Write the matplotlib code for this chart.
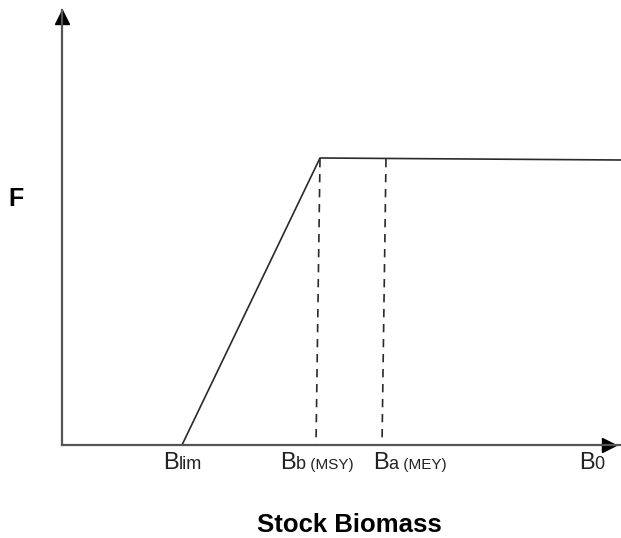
import matplotlib.pyplot as plt

plt.rcParams['font.family'] = ['Liberation Sans', 'DejaVu Sans']

# harvest control rule, in chart units (x: biomass, y: fishing mortality)
rule_b = [120, 258, 559]
rule_f = [0, 287, 285]

# reference points on the biomass axis
ref_main = ['B', 'B', 'B', 'B']
ref_sub = ['lim', 'b', 'a', '0']
ref_extra = ['', ' (MSY)', ' (MEY)', '']
label_left = [101, 218, 311, 517]
dash_top_x = [258, 324]
dash_bot_x = [254, 320]
dash_top_f = 286

fig = plt.figure(figsize=(6.21, 5.38), dpi=100)
ax = fig.add_axes([62 / 621, (538 - 445) / 538, (621 - 62) / 621, (445 - 10) / 538])
ax.set_xlim(0, 559)
ax.set_ylim(0, 435)
for s in ['top', 'right']:
    ax.spines[s].set_visible(False)
for s in ['left', 'bottom']:
    ax.spines[s].set_color('#555555')
    ax.spines[s].set_linewidth(1.6)
ax.set_xticks([])
ax.set_yticks([])
ax.patch.set_visible(False)

# arrow heads
ax.plot([0], [428], marker='^', color='black', markersize=10, clip_on=False)
ax.plot([547], [0], marker='>', color='black', markersize=10, clip_on=False)

ax.plot(rule_b, rule_f, color='#2a2a2a', lw=1.2, clip_on=False)
for xt, xb in zip(dash_top_x, dash_bot_x):
    ax.plot([xt, xb], [dash_top_f, 0], color='#2a2a2a', lw=1.2,
            dashes=(5, 4), clip_on=False)

# labels under the x axis, built piece by piece
r = fig.canvas.get_renderer()
base_y = 538 - 469
for main, sub, extra, x in zip(ref_main, ref_sub, ref_extra, label_left):
    x_px = ax.transData.transform((x, 0))[0]
    parts = [(main, 17), (sub, 13), (extra, 11)]
    for txt, size in parts:
        if not txt:
            continue
        t = fig.text(x_px / 621, base_y / 538, txt, fontsize=size,
                     color='#222222', ha='left', va='baseline')
        x_px = t.get_window_extent(r).x1

fig.text(16 / 621, 1 - 199 / 538, 'F', fontsize=18, fontweight='bold',
         ha='center', va='center')
fig.text(349 / 621, 1 - 525 / 538, 'Stock Biomass', fontsize=18.5,
         fontweight='bold', ha='center', va='center')

fig.savefig('out.png', dpi=100)
